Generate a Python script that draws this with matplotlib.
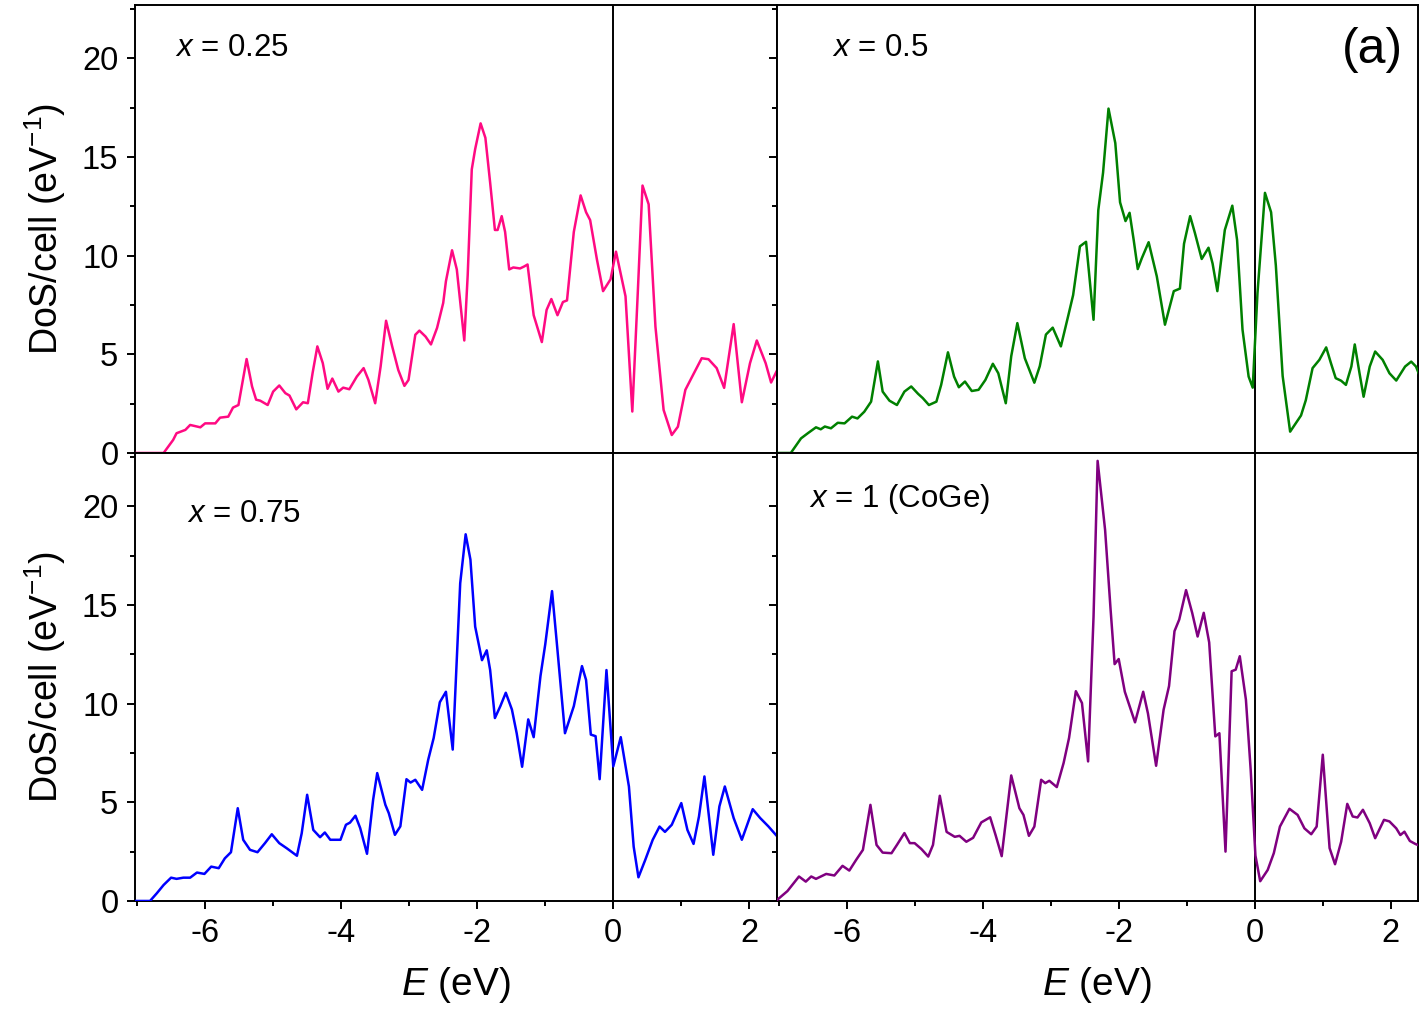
import numpy as np
import matplotlib
matplotlib.use("Agg")
from matplotlib import pyplot as plt
from matplotlib.ticker import MultipleLocator

plt.rcParams['font.family'] = ['Liberation Sans', 'DejaVu Sans']
plt.rcParams['mathtext.fontset'] = 'custom'
plt.rcParams['mathtext.rm'] = 'Liberation Sans'
plt.rcParams['mathtext.it'] = 'Liberation Sans:italic'
plt.rcParams['axes.unicode_minus'] = False

# DoS curves (energy in eV, DoS per cell)
e_025 = [-7.03, -6.61, -6.47, -6.42, -6.29, -6.22, -6.07, -6.0, -5.85, -5.78, -5.66, -5.59, -5.51, -5.39, -5.31,
         -5.25, -5.19, -5.08, -5.0, -4.91, -4.82, -4.76, -4.66, -4.56, -4.49, -4.42, -4.35, -4.27, -4.2, -4.13,
         -4.04, -3.97, -3.88, -3.77, -3.67, -3.6, -3.5, -3.42, -3.34, -3.25, -3.16, -3.07, -3.01, -2.91, -2.85,
         -2.76, -2.68, -2.59, -2.5, -2.46, -2.37, -2.3, -2.19, -2.14, -2.08, -2.03, -1.95, -1.88, -1.81, -1.74,
         -1.70, -1.64, -1.59, -1.53, -1.47, -1.37, -1.31, -1.26, -1.17, -1.05, -0.98, -0.91, -0.82, -0.74, -0.68,
         -0.58, -0.48, -0.40, -0.34, -0.24, -0.15, -0.04, 0.04, 0.18, 0.28, 0.36, 0.43, 0.52, 0.62, 0.74, 0.86,
         0.95, 1.06, 1.16, 1.30, 1.40, 1.52, 1.63, 1.77, 1.89, 2.01, 2.11, 2.24, 2.32, 2.41]
d_025 = [0, 0, 0.66, 1.0, 1.17, 1.42, 1.3, 1.5, 1.5, 1.79, 1.84, 2.3, 2.43, 4.76, 3.37,
         2.7, 2.65, 2.43, 3.11, 3.42, 3.03, 2.91, 2.21, 2.57, 2.52, 4.05, 5.4, 4.55, 3.25, 3.77,
         3.11, 3.31, 3.23, 3.87, 4.3, 3.71, 2.52, 4.38, 6.7, 5.4, 4.2, 3.4, 3.7, 5.99, 6.2,
         5.9, 5.5, 6.34, 7.6, 8.7, 10.27, 9.3, 5.7, 9.0, 14.37, 15.4, 16.7, 15.97, 13.7, 11.3,
         11.3, 12.0, 11.2, 9.3, 9.4, 9.35, 9.45, 9.55, 6.98, 5.62, 7.25, 7.8, 6.98, 7.65, 7.73,
         11.2, 13.05, 12.2, 11.8, 9.8, 8.2, 8.8, 10.2, 7.94, 2.1, 8.1, 13.55, 12.6, 6.4, 2.18, 0.91,
         1.33, 3.2, 3.87, 4.8, 4.75, 4.3, 3.3, 6.53, 2.57, 4.55, 5.7, 4.55, 3.57, 4.2]

e_05 = [-7.03, -6.82, -6.67, -6.57, -6.45, -6.38, -6.32, -6.23, -6.13, -6.03, -5.92, -5.84, -5.74, -5.64, -5.54,
        -5.47, -5.37, -5.26, -5.15, -5.05, -4.95, -4.88, -4.79, -4.68, -4.61, -4.51, -4.42, -4.35, -4.26, -4.16,
        -4.06, -3.96, -3.85, -3.77, -3.66, -3.58, -3.49, -3.38, -3.24, -3.16, -3.07, -2.97, -2.85, -2.74, -2.67,
        -2.57, -2.48, -2.37, -2.30, -2.23, -2.15, -2.05, -1.98, -1.90, -1.84, -1.78, -1.72, -1.66, -1.56, -1.44,
        -1.32, -1.19, -1.10, -1.04, -0.95, -0.88, -0.78, -0.68, -0.62, -0.55, -0.44, -0.33, -0.26, -0.18, -0.09,
        -0.03, 0.04, 0.15, 0.24, 0.31, 0.41, 0.52, 0.68, 0.75, 0.85, 0.95, 1.05, 1.12, 1.19, 1.27, 1.34, 1.42,
        1.47, 1.54, 1.60, 1.69, 1.77, 1.88, 1.98, 2.08, 2.21, 2.30, 2.37, 2.45]
d_05 = [0, 0, 0.74, 1.0, 1.3, 1.2, 1.34, 1.25, 1.53, 1.5, 1.84, 1.75, 2.09, 2.6, 4.64,
        3.11, 2.65, 2.43, 3.11, 3.37, 3.0, 2.78, 2.43, 2.6, 3.45, 5.1, 3.87, 3.33, 3.62, 3.14,
        3.2, 3.7, 4.52, 4.04, 2.52, 4.9, 6.58, 4.8, 3.56, 4.4, 6.0, 6.35, 5.4, 6.98, 8.0,
        10.47, 10.7, 6.75, 12.3, 14.2, 17.45, 15.7, 12.7, 11.75, 12.17, 10.8, 9.32, 9.87, 10.68, 8.95,
        6.5, 8.2, 8.33, 10.6, 12.0, 11.15, 9.83, 10.4, 9.6, 8.2, 11.3, 12.53, 10.8, 6.25, 3.87,
        3.31, 8.1, 13.18, 12.2, 9.5, 3.9, 1.08, 1.9, 2.67, 4.3, 4.72, 5.35, 4.55, 3.79, 3.66, 3.45, 4.38,
        5.5, 4.04, 2.85, 4.38, 5.14, 4.72, 4.04, 3.67, 4.38, 4.63, 4.38, 3.7]

e_075 = [-7.03, -6.81, -6.71, -6.61, -6.50, -6.42, -6.32, -6.22, -6.12, -6.01, -5.91, -5.80, -5.71, -5.62, -5.52,
         -5.44, -5.34, -5.23, -5.12, -5.02, -4.91, -4.80, -4.65, -4.58, -4.50, -4.41, -4.31, -4.24, -4.16, -4.01,
         -3.93, -3.87, -3.79, -3.72, -3.62, -3.53, -3.47, -3.35, -3.30, -3.21, -3.13, -3.04, -2.98, -2.91, -2.81,
         -2.72, -2.64, -2.55, -2.46, -2.36, -2.25, -2.17, -2.10, -2.03, -1.93, -1.86, -1.81, -1.74, -1.66, -1.58,
         -1.49, -1.42, -1.34, -1.25, -1.17, -1.07, -1.00, -0.90, -0.83, -0.71, -0.58, -0.46, -0.40, -0.33, -0.26,
         -0.20, -0.10, 0.0, 0.11, 0.23, 0.30, 0.37, 0.47, 0.58, 0.68, 0.76, 0.86, 1.0, 1.09, 1.18, 1.26, 1.34,
         1.47, 1.56, 1.64, 1.77, 1.89, 2.05, 2.16, 2.28, 2.41]
d_075 = [0, 0, 0.39, 0.81, 1.18, 1.12, 1.18, 1.18, 1.44, 1.37, 1.74, 1.66, 2.16, 2.47, 4.7,
         3.1, 2.59, 2.47, 2.93, 3.38, 2.93, 2.67, 2.29, 3.43, 5.38, 3.6, 3.23, 3.47, 3.1, 3.1,
         3.86, 3.97, 4.32, 3.69, 2.39, 5.13, 6.48, 4.87, 4.45, 3.35, 3.78, 6.17, 6.0, 6.14, 5.63,
         7.16, 8.26, 10.07, 10.6, 7.67, 16.1, 18.58, 17.3, 13.9, 12.2, 12.7, 11.7, 9.27, 9.87, 10.55,
         9.7, 8.5, 6.8, 9.2, 8.3, 11.4, 13.0, 15.7, 13.08, 8.5, 9.87, 11.9, 11.2, 8.43, 8.35,
         6.17, 11.7, 6.82, 8.3, 5.8, 2.75, 1.2, 2.08, 3.1, 3.77, 3.5, 3.86, 4.96, 3.6, 2.89, 4.28, 6.31,
         2.34, 4.79, 5.8, 4.2, 3.1, 4.65, 4.2, 3.78, 3.27]

e_1 = [-7.04, -6.87, -6.70, -6.60, -6.52, -6.45, -6.30, -6.18, -6.06, -5.96, -5.86, -5.76, -5.65, -5.56, -5.47,
       -5.34, -5.26, -5.15, -5.07, -5.0, -4.90, -4.80, -4.73, -4.63, -4.53, -4.41, -4.34, -4.24, -4.14, -4.02,
       -3.89, -3.81, -3.72, -3.58, -3.46, -3.40, -3.32, -3.24, -3.14, -3.08, -3.02, -2.91, -2.81, -2.73, -2.63,
       -2.54, -2.45, -2.37, -2.31, -2.20, -2.12, -2.06, -2.00, -1.91, -1.76, -1.64, -1.57, -1.45, -1.34, -1.26,
       -1.18, -1.11, -1.01, -0.92, -0.84, -0.75, -0.67, -0.58, -0.52, -0.43, -0.34, -0.28, -0.22, -0.13, -0.06,
       0.01, 0.08, 0.19, 0.28, 0.37, 0.51, 0.63, 0.73, 0.83, 0.91, 1.00, 1.10, 1.18, 1.27, 1.36, 1.44, 1.51,
       1.59, 1.69, 1.77, 1.90, 1.98, 2.08, 2.14, 2.20, 2.28, 2.36, 2.45]
d_1 = [0, 0.5, 1.24, 0.98, 1.24, 1.12, 1.37, 1.29, 1.78, 1.54, 2.08, 2.59, 4.87, 2.84, 2.45,
       2.42, 2.84, 3.44, 2.93, 2.93, 2.63, 2.25, 2.84, 5.33, 3.5, 3.25, 3.3, 3.0, 3.2, 3.98,
       4.24, 3.34, 2.27, 6.36, 4.7, 4.36, 3.3, 3.77, 6.14, 5.97, 6.09, 5.77, 6.99, 8.26, 10.63,
       10.03, 7.07, 14.4, 22.3, 18.8, 14.8, 12.0, 12.26, 10.6, 9.05, 10.6, 9.5, 6.85, 9.69, 10.89,
       13.67, 14.26, 15.75, 14.6, 13.4, 14.6, 13.1, 8.34, 8.5, 2.5, 11.64, 11.72, 12.4, 10.2, 6.65,
       2.3, 1.0, 1.57, 2.42, 3.77, 4.67, 4.36, 3.68, 3.38, 3.77, 7.41, 2.68, 1.86, 3.0, 4.92, 4.28, 4.23,
       4.62, 3.94, 3.18, 4.11, 4.03, 3.68, 3.34, 3.51, 3.04, 2.89, 2.76]

labels = [r'$x$ = 0.25', r'$x$ = 0.5', r'$x$ = 0.75', r'$x$ = 1 (CoGe)']
colors = ['#ff0a82', '#008000', '#0000ff', '#800080']
energies = [e_025, e_05, e_075, e_1]
dos = [d_025, d_05, d_075, d_1]
label_pos = [(0.062, 0.905), (0.086, 0.905), (0.081, 0.864), (0.05, 0.897)]

fig, axes = plt.subplots(2, 2, figsize=(14.23, 10.17), dpi=100, sharex=True, sharey=True)
fig.subplots_adjust(left=0.0949, right=0.9965, top=0.9951, bottom=0.1141, wspace=0, hspace=0)

for i, ax in enumerate(axes.flat):
    ax.plot(energies[i], dos[i], color=colors[i], lw=1.8, zorder=3, solid_joinstyle='round')
    ax.axvline(0, color='black', lw=1.4)
    ax.set_xlim(-7.03, 2.4)
    ax.set_ylim(0, 22.7)
    ax.xaxis.set_major_locator(MultipleLocator(2))
    ax.xaxis.set_minor_locator(MultipleLocator(1))
    ax.yaxis.set_major_locator(MultipleLocator(5))
    ax.yaxis.set_minor_locator(MultipleLocator(2.5))
    ax.tick_params(which='major', direction='out', length=6, width=1.4, labelsize=23.5, pad=6)
    ax.tick_params(which='minor', direction='out', length=3.5, width=1.4)
    for s in ax.spines.values():
        s.set_linewidth(1.4)
    ax.text(label_pos[i][0], label_pos[i][1], labels[i], transform=ax.transAxes,
            fontsize=22.5, ha='left', va='center')

for ax in axes[:, 0]:
    ax.set_ylabel(r'DoS/cell (eV$^{\mathregular{-1}}$)', fontsize=27, labelpad=10)
for ax in axes[1, :]:
    ax.set_xlabel(r'$E$ (eV)', fontsize=28, labelpad=12)

axes[0, 1].text(0.977, 0.9, '(a)', transform=axes[0, 1].transAxes, fontsize=36, ha='right', va='center')

fig.savefig('out.png', dpi=100)
